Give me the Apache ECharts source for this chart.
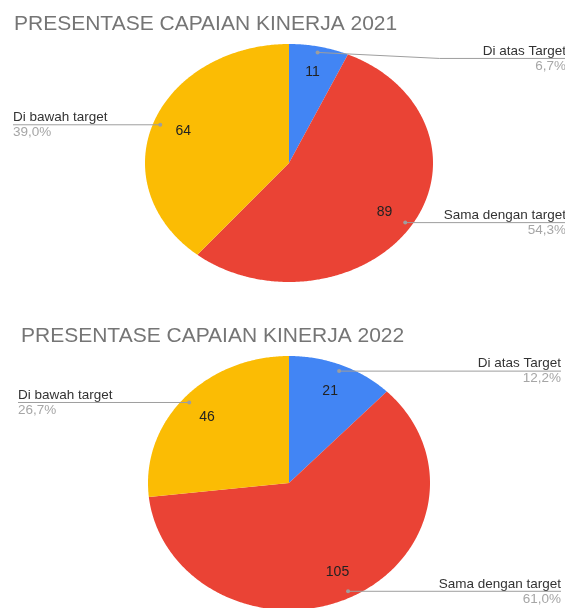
<!DOCTYPE html>
<html>
<head>
<meta charset="utf-8">
<script src="https://cdn.jsdelivr.net/npm/echarts@6/dist/echarts.min.js"></script>
<style>
  html, body { margin: 0; padding: 0; background: #fff; }
  #chart { width: 565px; height: 608px; }
</style>
</head>
<body>
<div id="chart"></div>
<script>
// data
const categories = ['Di atas Target', 'Sama dengan target', 'Di bawah target'];
const values2021 = [11, 89, 64];
const values2022 = [21, 105, 46];
const titles = ['PRESENTASE CAPAIAN KINERJA 2021', 'PRESENTASE CAPAIAN KINERJA 2022'];

const colors = ['#4285F4', '#EA4335', '#FBBC04'];
const FONT = '"Liberation Sans", Arial, sans-serif';

// layout of the two (stretched) pies
const pies = [
  { values: values2021, cx: 289, cy: 163, rx: 144, ry: 119, titleX: 14, titleY: 14,
    leftX: 13, rightX: 566, lineShift: { 0: 6 } },
  { values: values2022, cx: 289, cy: 483, rx: 141, ry: 127, titleX: 21, titleY: 326,
    leftX: 18, rightX: 561, lineShift: {} }
];

function pt(p, a, r) {
  // a: angle clockwise from 12 o'clock
  return [p.cx + p.rx * r * Math.sin(a), p.cy - p.ry * r * Math.cos(a)];
}

function makeRender(p) {
  const total = p.values.reduce((s, v) => s + v, 0);
  return function (params, api) {
    const i = params.dataIndex;
    const v = api.value(0);
    let before = 0;
    for (let k = 0; k < i; k++) before += p.values[k];
    const a0 = before / total * Math.PI * 2;
    const a1 = (before + v) / total * Math.PI * 2;
    const mid = (a0 + a1) / 2;

    const points = [[p.cx, p.cy]];
    const n = Math.max(4, Math.ceil((a1 - a0) / 0.01));
    for (let k = 0; k <= n; k++) points.push(pt(p, a0 + (a1 - a0) * k / n, 1));

    const dot = pt(p, mid, 0.95);
    const inside = pt(p, mid, 0.78);
    const right = Math.sin(mid) > 0;
    const lineY = dot[1] + (p.lineShift[i] || 0);
    const endX = right ? p.rightX : p.leftX;
    const line = [dot];
    if (lineY !== dot[1]) line.push([dot[0] + (right ? 122 : -122), lineY]);
    line.push([endX, lineY]);
    const pct = (v / total * 100).toFixed(1).replace('.', ',') + '%';
    const align = right ? 'right' : 'left';

    return {
      type: 'group',
      children: [
        { type: 'polygon', shape: { points: points }, style: { fill: colors[i] } },
        { type: 'text', style: { text: String(v), x: inside[0], y: inside[1], align: 'center',
            verticalAlign: 'middle', fill: '#222', font: '14px ' + FONT } },
        { type: 'polyline', shape: { points: line }, style: { stroke: '#9e9e9e', lineWidth: 1, fill: null } },
        { type: 'circle', shape: { cx: dot[0], cy: dot[1], r: 2 }, style: { fill: '#9e9e9e' } },
        { type: 'text', style: { text: categories[i], x: endX, y: lineY - 7.5, align: align,
            verticalAlign: 'middle', fill: '#333', font: '13.5px ' + FONT } },
        { type: 'text', style: { text: pct, x: endX, y: lineY + 7.5, align: align,
            verticalAlign: 'middle', fill: '#a6a6a6', font: '13.5px ' + FONT } }
      ]
    };
  };
}

const chart = echarts.init(document.getElementById('chart'));
chart.setOption({
  animation: false,
  title: pies.map((p, k) => ({
    text: titles[k],
    left: p.titleX,
    top: p.titleY,
    padding: 0,
    textStyle: { fontSize: 21, fontWeight: 'normal', color: '#757575', fontFamily: FONT }
  })),
  series: pies.map(p => ({
    type: 'custom',
    coordinateSystem: 'none',
    renderItem: makeRender(p),
    data: p.values.map(v => [v])
  }))
});
</script>
</body>
</html>
